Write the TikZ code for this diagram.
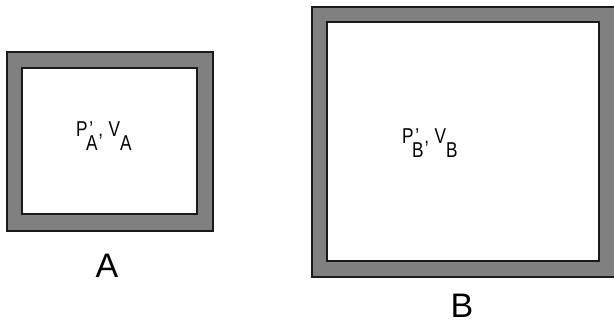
\documentclass[tikz,border=0pt]{standalone}
\usepackage{fontspec}
\setmainfont{Liberation Sans}
\definecolor{framegrey}{HTML}{808080}
\definecolor{edgeblack}{HTML}{1A1A1A}
\newcommand{\subl}[1]{\raisebox{-14pt}{#1}}
\newcommand{\pvtext}[1]{\scalebox{0.8}[1]{P\kern-2pt\rlap{\kern4pt'}\subl{#1}\kern1pt,\kern7pt V\subl{#1}}}
\begin{document}
\begin{tikzpicture}[x=1pt,y=-1pt,
  outerbox/.style={draw=edgeblack, line width=1.6pt, fill=framegrey, inner sep=0pt},
  innerbox/.style={draw=edgeblack, line width=1.6pt, fill=white, inner sep=0pt},
  vartext/.style={font=\fontsize{21.5}{22}\selectfont, inner sep=0pt, anchor=base west},
  boxlabel/.style={font=\fontsize{34}{34}\selectfont, inner sep=0pt, anchor=base}]
\useasboundingbox (0,0) rectangle (614,325);
\fill[white] (0,0) rectangle (614,325);
% box A
\node[outerbox, minimum width=206pt, minimum height=179pt] (Aout) at (110,141.5) {};
\node[innerbox, minimum width=175pt, minimum height=146pt] (Ain) at (109.5,141) {};
\node[vartext] (Atext) at (76,136) {\pvtext{A}};
\node[boxlabel] (Alabel) at (107,277) {A};
% box B
\node[outerbox, minimum width=303pt, minimum height=270pt] (Bout) at (463.5,142) {};
\node[innerbox, minimum width=272pt, minimum height=239pt] (Bin) at (463,141.5) {};
\node[vartext] (Btext) at (402,143) {\pvtext{B}};
\node[boxlabel] (Blabel) at (462,317) {B};
\end{tikzpicture}
\end{document}
